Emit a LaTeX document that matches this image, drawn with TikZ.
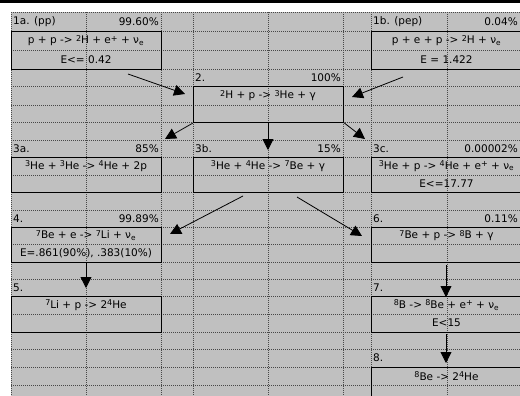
\documentclass[tikz,border=0pt]{standalone}
\usepackage{fontspec}
\setmainfont{DejaVu Sans}
\usetikzlibrary{arrows.meta}
\definecolor{sheet}{HTML}{C0C0C0}
\definecolor{gridc}{HTML}{484848}
\newcommand{\sps}[1]{\raisebox{0.45ex}{\fontsize{8}{9}\selectfont #1}}
\newcommand{\nue}{ν\textsubscript{e}}
\begin{document}
\begin{tikzpicture}[x=1pt,y=-1pt,
  gridline/.style={draw=gridc, line width=0.8pt, dash pattern=on 1pt off 1pt},
  boxframe/.style={draw=black, line width=1.1pt, inner sep=0pt, anchor=north west},
  lbl/.style={anchor=west, inner sep=0pt, font=\fontsize{10.5}{12}\selectfont},
  pct/.style={anchor=east, inner sep=0pt, font=\fontsize{10.5}{12}\selectfont},
  eq/.style={anchor=center, inner sep=0pt, font=\fontsize{10.5}{12}\selectfont},
  arr/.style={draw=black, line width=0.8pt, -{Triangle[length=11pt,width=11pt]}}
]
\useasboundingbox (0,0) rectangle (520,396);
\clip (0,0) rectangle (520,396);
\fill[white] (0,0) rectangle (520,396);
\fill[black] (0,0) rectangle (520,3);
\fill[sheet] (11,12) rectangle (520,396);
% grid
\foreach \x in {11,86,161,193,268,343,371,447}
  \draw[gridline] (\x,12) -- (\x,396);
\foreach \y in {12,31,50,69,86,105,122,140,157,175,192,210,227,244,262,279,296,314,332,349,367,385}
  \draw[gridline] (11,\y) -- (520,\y);
% boxes
\node[boxframe, minimum width=150pt, minimum height=38pt] (b1a) at (11,31) {};
\node[boxframe, minimum width=151pt, minimum height=38pt] (b1b) at (371,31) {};
\node[boxframe, minimum width=150pt, minimum height=36pt] (b2) at (193,86) {};
\node[boxframe, minimum width=150pt, minimum height=35pt] (b3a) at (11,157) {};
\node[boxframe, minimum width=150pt, minimum height=35pt] (b3b) at (193,157) {};
\node[boxframe, minimum width=151pt, minimum height=35pt] (b3c) at (371,157) {};
\node[boxframe, minimum width=150pt, minimum height=35pt] (b4) at (11,227) {};
\node[boxframe, minimum width=151pt, minimum height=35pt] (b6) at (371,227) {};
\node[boxframe, minimum width=150pt, minimum height=36pt] (b5) at (11,296) {};
\node[boxframe, minimum width=151pt, minimum height=36pt] (b7) at (371,296) {};
\node[boxframe, minimum width=151pt, minimum height=36pt] (b8) at (371,367) {};
% labels
\node[lbl] (l1a) at (13,22) {1a. (pp)};
\node[pct] (p1a) at (159,22) {99.60\%};
\node[eq] (e1a1) at (86,40.5) {p + p -> \sps{2}H + e\sps{+} + \nue};
\node[eq] (e1a2) at (86,59.5) {E<= 0.42};
\node[lbl] (l1b) at (373,22) {1b. (pep)};
\node[pct] (p1b) at (518,22) {0.04\%};
\node[eq] (e1b1) at (446.5,40.5) {p + e + p -> \sps{2}H + \nue};
\node[eq] (e1b2) at (446.5,59.5) {E = 1.422};
\node[lbl] (l2) at (195,78) {2.};
\node[pct] (p2) at (341,78) {100\%};
\node[eq] (e2) at (268,95.5) {\sps{2}H + p -> \sps{3}He + γ};
\node[lbl] (l3a) at (13,148.5) {3a.};
\node[pct] (p3a) at (159,148.5) {85\%};
\node[eq] (e3a) at (86,166) {\sps{3}He + \sps{3}He -> \sps{4}He + 2p};
\node[lbl] (l3b) at (195,148.5) {3b.};
\node[pct] (p3b) at (341,148.5) {15\%};
\node[eq] (e3b) at (268,166) {\sps{3}He + \sps{4}He -> \sps{7}Be + γ};
\node[lbl] (l3c) at (373,148.5) {3c.};
\node[pct] (p3c) at (518,148.5) {0.00002\%};
\node[eq] (e3c1) at (446.5,166) {\sps{3}He + p -> \sps{4}He + e\sps{+} + \nue};
\node[eq] (e3c2) at (446.5,183.5) {E<=17.77};
\node[lbl] (l4) at (13,218.5) {4.};
\node[pct] (p4) at (159,218.5) {99.89\%};
\node[eq] (e41) at (86,235.5) {\sps{7}Be + e -> \sps{7}Li + \nue};
\node[eq] (e42) at (86,253) {E=.861(90\%), .383(10\%)};
\node[lbl] (l5) at (13,287.5) {5.};
\node[eq] (e5) at (86,305) {\sps{7}Li + p -> 2\sps{4}He};
\node[lbl] (l6) at (373,218.5) {6.};
\node[pct] (p6) at (518,218.5) {0.11\%};
\node[eq] (e6) at (446.5,235.5) {\sps{7}Be + p -> \sps{8}B + γ};
\node[lbl] (l7) at (373,287.5) {7.};
\node[eq] (e71) at (446.5,305) {\sps{8}B -> \sps{8}Be + e\sps{+} + \nue};
\node[eq] (e72) at (446.5,323) {E<15};
\node[lbl] (l8) at (373,358) {8.};
\node[eq] (e8) at (446.5,376) {\sps{8}Be -> 2\sps{4}He};
% arrow end points
\coordinate (a1s) at (128,74);  \coordinate (a1e) at (185,94);
\coordinate (a2s) at (403,77);  \coordinate (a2e) at (352,97);
\coordinate (a3s) at (193,123); \coordinate (a3e) at (165,139);
\coordinate (a4s) at (268,122); \coordinate (a4e) at (268,150);
\coordinate (a5s) at (343,122); \coordinate (a5e) at (365,139);
\coordinate (a6s) at (243,196); \coordinate (a6e) at (170,234);
\coordinate (a7s) at (297,197); \coordinate (a7e) at (362,236);
\coordinate (a8s) at (86,263);  \coordinate (a8e) at (86,288);
\coordinate (a9s) at (446,265); \coordinate (a9e) at (446,297);
\coordinate (a10s) at (446,334); \coordinate (a10e) at (446,363);
\foreach \i in {1,...,10} \draw[arr] (a\i s) -- (a\i e);
\end{tikzpicture}
\end{document}
